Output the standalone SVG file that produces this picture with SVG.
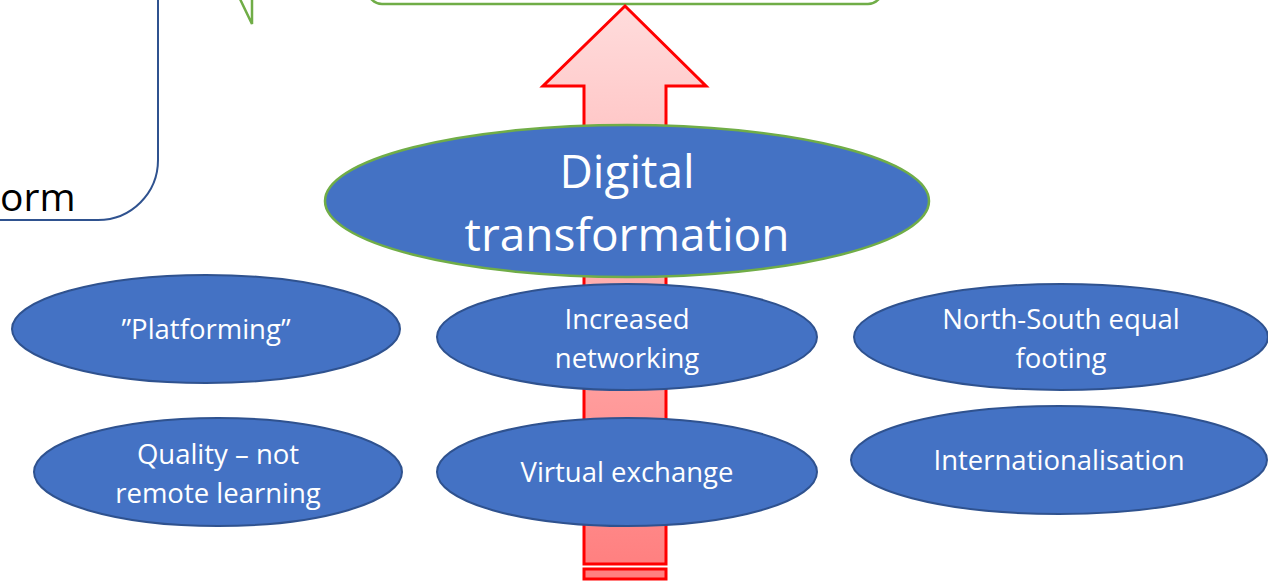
<svg xmlns="http://www.w3.org/2000/svg" width="1268" height="583" viewBox="0 0 1268 583">
<defs>
<linearGradient id="arrowGrad" x1="0" y1="0" x2="0" y2="1">
<stop offset="0" stop-color="#FFDCDC"/>
<stop offset="1" stop-color="#FF8080"/>
</linearGradient>
<style>
.node{fill:#4472C4;stroke:#2F528F;stroke-width:2}
.main{fill:#4472C4;stroke:#70AD47;stroke-width:2.5}
.lbl{font-family:"Open Sans","Noto Sans",sans-serif;fill:#FFFFFF;text-anchor:middle;font-size:27.5px}
.big{font-family:"Open Sans","Noto Sans",sans-serif;fill:#FFFFFF;text-anchor:middle;font-size:46px}
.arrow{stroke:#FF0000;stroke-width:3}
</style>
</defs>
<rect width="1268" height="583" fill="#FFFFFF"/>
<g id="left-box">
<path d="M -10 -10 L 158 -10 L 158 160 A 60 60 0 0 1 98 220 L -10 220" fill="none" stroke="#2F528F" stroke-width="2"/>
<text x="0" y="211" font-family="Open Sans, Noto Sans, sans-serif" font-size="39" fill="#000000">orm</text>
</g>
<g id="top-box">
<path d="M 240 -1 L 252 24 L 252 -1" fill="none" stroke="#70AD47" stroke-width="2.5"/>
<path d="M 368 -10 L 368 -10 A 14 14 0 0 0 382 4 L 868 4 A 14 14 0 0 0 882 -10" fill="#FFFFFF" stroke="#70AD47" stroke-width="2.5"/>
</g>
<g id="connectors">
<path class="arrow" d="M 625 6 L 706 86 L 666 86 L 666 564 L 584 564 L 584 86 L 543 86 Z" fill="url(#arrowGrad)"/>
<rect class="arrow" x="584" y="569" width="82" height="10" fill="#FF8080"/>
</g>
<g id="digital-transformation">
<ellipse class="main" cx="627" cy="201" rx="302" ry="76"/>
<text class="big" x="627" y="188">Digital</text>
<text class="big" x="627" y="251">transformation</text>
</g>
<g id="platforming">
<ellipse class="node" cx="206" cy="329" rx="194" ry="54"/>
<text class="lbl" x="206" y="339">”Platforming”</text>
</g>
<g id="increased-networking">
<ellipse class="node" cx="627" cy="337" rx="190" ry="53"/>
<text class="lbl" x="627" y="329">Increased</text>
<text class="lbl" x="627" y="368">networking</text>
</g>
<g id="north-south">
<ellipse class="node" cx="1061" cy="337" rx="207" ry="53"/>
<text class="lbl" x="1061" y="329">North-South equal</text>
<text class="lbl" x="1061" y="368">footing</text>
</g>
<g id="quality">
<ellipse class="node" cx="218" cy="472" rx="184" ry="54"/>
<text class="lbl" x="218" y="464">Quality – not</text>
<text class="lbl" x="218" y="503">remote learning</text>
</g>
<g id="virtual-exchange">
<ellipse class="node" cx="627" cy="472" rx="190" ry="54"/>
<text class="lbl" x="627" y="482">Virtual exchange</text>
</g>
<g id="internationalisation">
<ellipse class="node" cx="1059" cy="460" rx="208" ry="54"/>
<text class="lbl" x="1059" y="470">Internationalisation</text>
</g>
</svg>
